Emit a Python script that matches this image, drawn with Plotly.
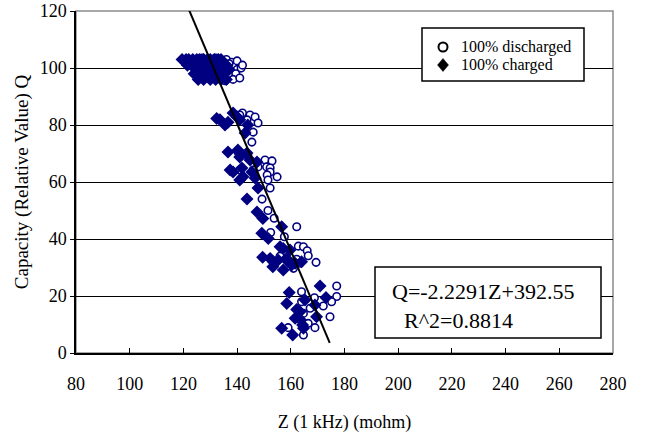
import plotly.graph_objects as go

# Impedance at 1 kHz (mohm) vs relative capacity, 100% discharged cells
discharged_z = [127, 129.5, 132, 134, 136, 138, 131, 133.5, 136, 138.5, 140, 141.5, 129, 135,
                137, 139.5, 132, 135.5, 138.5, 141, 128, 137, 140, 142,
                142, 144.8, 146.7, 147.8, 146, 145.5, 143.7, 141,
                140.3, 144, 150.4, 153, 151, 152.3, 147.8, 146, 141, 152.3, 151.2, 154.9, 151.5,
                152.3, 149.3, 151.5, 153.8,
                152.5, 162.2, 157.6, 162.8, 164.7, 166.1, 166.5, 156, 162.2, 169.4, 161, 163.4,
                164, 177.1, 168.8, 177.1, 175.2, 172.1, 164, 167.2, 164.7, 174.6, 166.5, 169, 159, 164.7]
discharged_q = [103.5, 103, 103.5, 102.5, 103, 102, 101, 100.5, 100, 100.5, 99.5, 100, 99, 98.5,
                97.5, 98, 96.5, 95.5, 96, 96.5, 97, 101.5, 102.5, 101,
                84.2, 83.5, 82.8, 80.7, 77.5, 74, 81.8, 83.5,
                70.5, 69.5, 67.7, 67.4, 65.3, 64.9, 65.3, 64.2, 64.2, 63.5, 62.5, 61.8, 60.7,
                57.9, 54, 50, 47.3,
                42.3, 44.3, 40.8, 37.5, 37.3, 35.9, 34.1, 34, 32.9, 31.8, 29.7, 31.5,
                21.5, 23.5, 19.4, 19.8, 18, 16.5, 18, 15.7, 13.9, 12.7, 10.4, 8.9, 8.9, 6.3]

# Same measurement, 100% charged cells
charged_z = [119.5, 121, 122, 123.5, 125, 126, 127.5, 129, 130, 131.5, 133, 134,
             121.5, 123, 124.5, 126, 128, 129.5, 131, 132.5, 134.5, 136,
             125, 127, 128.5, 130, 132, 133.5, 135, 137,
             124, 126, 128, 130, 131.5, 133, 135,
             125.5, 127.5, 130, 132, 134, 136,
             132.4, 133.6, 135.5, 136.6, 138.5, 140, 141, 143, 144,
             136.6, 140.3, 141, 143.7, 144.8, 147.4, 137.4, 138.5, 141.8, 142.2, 145.5, 141,
             146.7, 147.8, 143.7, 147.4, 149.6,
             149.2, 151.6, 156.6, 156, 157.2, 159.7, 149.5, 152.3, 153.5, 155.3, 153.3, 157.2,
             159, 160.3, 161.6, 164, 158.4,
             159.4, 170.9, 158.5, 162.2, 163.4, 161.6, 165.3, 169, 173.1, 164.4, 156.6, 160.7,
             164.7, 163.4, 169.6]
charged_q = [103, 103, 103, 103, 103, 103, 103, 103, 103, 103, 103, 103,
             101, 101, 101, 101, 101, 101, 101, 101, 101, 101,
             99.5, 99.5, 99.5, 99.5, 99.5, 99.5, 99.5, 99.5,
             98, 98, 98, 98, 98, 98, 98,
             96, 96, 96, 96, 96, 96,
             82.3, 81.8, 80, 81, 84.2, 82.8, 81.8, 77.2, 80,
             70.5, 71.2, 68.8, 70.2, 67.7, 67, 64.2, 63.5, 64.9, 61.8, 63.5, 60.7,
             61.4, 57.9, 54, 49.5, 47.2,
             42, 40.2, 44.3, 37.3, 36.7, 36.1, 33.6, 33.2, 32, 32.6, 30.3, 29.1,
             32, 30.9, 31.5, 32, 33.2,
             21.2, 23.5, 17.4, 15.3, 14.5, 12.2, 18.6, 16.8, 19.5, 9.8, 8.7, 6.3,
             8.7, 11.8, 12.7]

# Linear fit Q = a*Z + b
fit_slope = -2.2291
fit_intercept = 392.55
fit_r2 = 0.8814
fit_z_span = [119.9, 174.5]

x_ticks = [80, 100, 120, 140, 160, 180, 200, 220, 240, 260, 280]
y_ticks = [0, 20, 40, 60, 80, 100, 120]

series_names = ["100% discharged", "100% charged"]

NAVY = "#000080"
SERIF = "Liberation Serif, Times New Roman, serif"

fig = go.Figure()

fig.add_trace(go.Scatter(
    x=discharged_z, y=discharged_q, mode="markers", name=series_names[0], showlegend=False,
    marker=dict(symbol="circle", size=7.5, color="white", line=dict(color=NAVY, width=1.6)),
))
fig.add_trace(go.Scatter(
    x=charged_z, y=charged_q, mode="markers", name=series_names[1], showlegend=False,
    marker=dict(symbol="diamond", size=10, color=NAVY, line=dict(width=0)),
))
fig.add_trace(go.Scatter(
    x=fit_z_span, y=[fit_slope * z + fit_intercept for z in fit_z_span],
    mode="lines", line=dict(color="black", width=2), showlegend=False,
))

L, R, T, B = 76, 32, 11, 82
W, H = 645, 435
pw, ph = W - L - R, H - T - B


def px(x):
    return (x - L) / pw


def py(y):
    return (H - B - y) / ph


# plot frame (grey top/right edges)
fig.add_shape(type="rect", xref="paper", yref="paper", x0=0, x1=1, y0=0, y1=1,
              line=dict(color="#8c8c8c", width=1.5), layer="below")

# key box with black glyphs
fig.add_shape(type="rect", xref="paper", yref="paper",
              x0=px(422), x1=px(584), y0=py(81), y1=py(28),
              line=dict(color="black", width=1.5), fillcolor="white")
fig.add_shape(type="circle", xref="paper", yref="paper",
              x0=px(438.5), x1=px(447.5), y0=py(51.5), y1=py(42.5),
              line=dict(color="black", width=2), fillcolor="white")
dx, dy = 5.5, 6.5
cx, cy = 443, 65
fig.add_shape(type="path", xref="paper", yref="paper",
              path=(f"M {px(cx)},{py(cy - dy)} L {px(cx + dx)},{py(cy)} "
                    f"L {px(cx)},{py(cy + dy)} L {px(cx - dx)},{py(cy)} Z"),
              line=dict(color="black", width=0.5), fillcolor="black")
for name, yy in zip(series_names, [47, 65]):
    fig.add_annotation(xref="paper", yref="paper", x=px(459), y=py(yy), xanchor="left",
                       yanchor="middle", showarrow=False, text=name,
                       font=dict(family=SERIF, size=16, color="black"))

# fit equation box
fig.add_shape(type="rect", xref="paper", yref="paper",
              x0=px(375), x1=px(601), y0=py(338), y1=py(267),
              line=dict(color="black", width=1.5), fillcolor="white")
fig.add_annotation(xref="paper", yref="paper", x=px(390), y=py(291), xanchor="left",
                   yanchor="middle", showarrow=False,
                   text=f"Q={fit_slope}Z+{fit_intercept}",
                   font=dict(family=SERIF, size=22, color="black"))
fig.add_annotation(xref="paper", yref="paper", x=px(402), y=py(320), xanchor="left",
                   yanchor="middle", showarrow=False,
                   text=f"R^2={fit_r2}",
                   font=dict(family=SERIF, size=22, color="black"))

fig.update_layout(
    width=W, height=H,
    margin=dict(l=L, r=R, t=T, b=B, autoexpand=False),
    paper_bgcolor="white", plot_bgcolor="white",
    font=dict(family=SERIF, size=18, color="black"),
    showlegend=False,
    xaxis=dict(range=[80, 280], tickvals=x_ticks, showgrid=False, zeroline=False,
               automargin=False,
               showline=True, linecolor="black", linewidth=1.5,
               ticks="inside", ticklen=5, tickcolor="black",
               ticklabelstandoff=14,
               title=dict(text="Z (1 kHz) (mohm)", standoff=22, font=dict(size=18))),
    yaxis=dict(range=[0, 120], tickvals=y_ticks, showgrid=True, gridcolor="black",
               gridwidth=1, zeroline=False, automargin=False,
               showline=True, linecolor="black", linewidth=1.5,
               ticks="outside", ticklen=4, tickcolor="black",
               title=dict(text="Capacity (Relative Value) Q", standoff=6, font=dict(size=19))),
)

fig.write_html("out.html")
